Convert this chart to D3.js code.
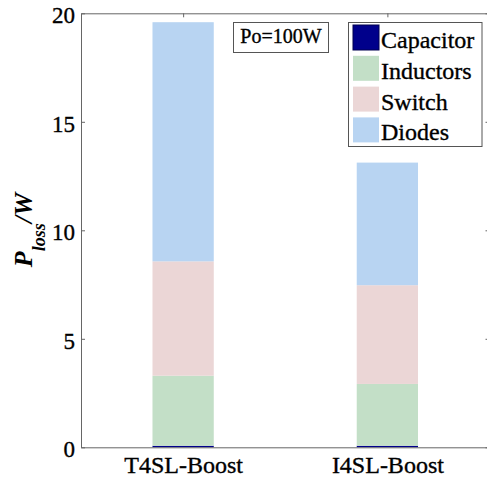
<!DOCTYPE html>
<html>
<head>
<meta charset="utf-8">
<script src="https://cdn.jsdelivr.net/npm/d3@7"></script>
<style>
  body { margin: 0; background: #fff; }
</style>
</head>
<body>
<svg></svg>
<script>
const svgWidth = 487
const svgHeight = 481
const margins = {top: 13.3, bottom: 33.7, left: 81, right: -2.5}
const serif = "'Liberation Serif', 'Times New Roman', serif"

// data (W)
const categories = ["T4SL-Boost", "I4SL-Boost"]
const capacitor = [0.07, 0.07]
const inductors = [3.23, 2.85]
const switchLoss = [5.27, 4.55]
const diodes = [11.02, 5.65]
const seriesNames = ["Capacitor", "Inductors", "Switch", "Diodes"]
const seriesColors = ["#00008b", "#c3dfc7", "#ebd6d6", "#b8d4f2"]
const yTicks = [0, 5, 10, 15, 20]

const plotRight = svgWidth - margins.right
const plotBottom = svgHeight - margins.bottom

const svg = d3.select("svg")
  .attr("width", svgWidth)
  .attr("height", svgHeight)
  .style("font-family", serif)

const rows = categories.map((c, i) => ({
  key: c, Capacitor: capacitor[i], Inductors: inductors[i], Switch: switchLoss[i], Diodes: diodes[i]
}))
const stacked = d3.stack().keys(seriesNames)(rows)

const xScale = d3.scalePoint()
  .domain(categories)
  .range([margins.left, plotRight])
  .padding(0.5)
const barWidth = xScale.step() * 0.3

const yScale = d3.scaleLinear()
  .domain([0, 20])
  .range([plotBottom, margins.top])

const color = d3.scaleOrdinal().domain(seriesNames).range(seriesColors)

// bars
svg.append("g").selectAll("g")
  .data(stacked)
  .enter()
  .append("g")
  .attr("fill", (d) => color(d.key))
  .selectAll("rect")
  .data((d) => d)
  .enter()
  .append("rect")
  .attr("x", (d) => xScale(d.data.key) - barWidth / 2)
  .attr("y", (d) => yScale(d[1]))
  .attr("width", barWidth)
  .attr("height", (d) => yScale(d[0]) - yScale(d[1]))

// axes (box)
const axisColor = "#666"
const leftAxis = svg.append("g")
  .attr("transform", `translate(${margins.left},0)`)
  .call(d3.axisLeft(yScale).tickValues(yTicks).tickSizeInner(-4).tickSizeOuter(0).tickPadding(6))
leftAxis.selectAll("text").attr("font-size", 23).attr("dy", "0.4em")

svg.append("g")
  .attr("transform", `translate(${plotRight},0)`)
  .call(d3.axisRight(yScale).tickValues(yTicks).tickSizeInner(-4).tickSizeOuter(0).tickFormat(""))

svg.append("g")
  .attr("transform", `translate(0,${margins.top})`)
  .call(d3.axisTop(xScale).tickSizeInner(-4).tickSizeOuter(0).tickFormat(""))

const bottomAxis = svg.append("g")
  .attr("transform", `translate(0,${plotBottom})`)
  .call(d3.axisBottom(xScale).tickSize(0).tickPadding(9))
bottomAxis.selectAll("text").attr("font-size", 24).attr("dy", "0.71em")

svg.selectAll(".domain").attr("stroke", axisColor)
svg.selectAll(".tick line").attr("stroke", axisColor)
svg.selectAll("g").attr("font-family", null)

// y label
const yLabel = svg.append("text")
  .attr("class", "ylabel")
  .attr("transform", `translate(32,230) rotate(-90)`)
  .attr("text-anchor", "middle")
  .attr("font-style", "italic")
  .attr("font-weight", "bold")
  .attr("font-size", 26)
yLabel.append("tspan").text("P")
yLabel.append("tspan").attr("font-size", 18).attr("dy", 13).text("loss")
yLabel.append("tspan").attr("dy", -13).text("/W")

// Po annotation
svg.append("rect")
  .attr("x", 233.5).attr("y", 22.5).attr("width", 95).attr("height", 30)
  .attr("fill", "#fff").attr("stroke", "#555")
svg.append("text")
  .attr("x", 281).attr("y", 43)
  .attr("text-anchor", "middle")
  .attr("font-size", 20)
  .text("Po=100W")

// legend
const legend = svg.append("g")
legend.append("rect")
  .attr("x", 348.5).attr("y", 22.5).attr("width", 133.5).attr("height", 124)
  .attr("fill", "#fff").attr("stroke", "#555")
const items = legend.selectAll("g.item")
  .data(seriesNames)
  .enter()
  .append("g")
  .attr("class", "item")
  .attr("transform", (d, i) => `translate(353,${25 + i * 30.8})`)
items.append("rect")
  .attr("width", 26).attr("height", 25)
  .attr("fill", (d) => color(d))
  .attr("stroke", (d, i) => i === 0 ? "#000050" : "none")
items.append("text")
  .attr("x", 28).attr("y", 23)
  .attr("font-size", 24)
  .text((d) => d)

// serif everywhere, slightly heavier strokes like the reference
svg.selectAll("text").style("font-family", serif).attr("fill", "#000")
  .attr("stroke", "#000").attr("stroke-width", 0.35)
svg.select(".ylabel").attr("stroke", null)
</script>
</body>
</html>
